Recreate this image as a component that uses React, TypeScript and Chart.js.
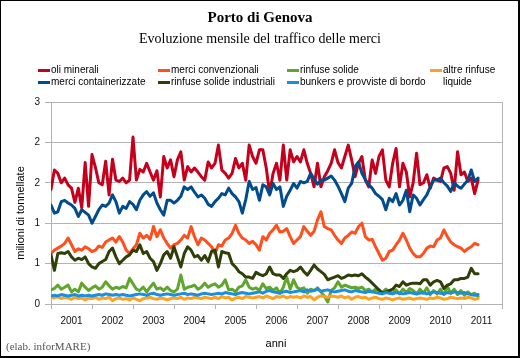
import React, { useEffect, useRef } from 'react';
import { Chart, registerables } from 'chart.js';

Chart.register(...registerables);

const years = ['2001', '2002', '2003', '2004', '2005', '2006', '2007', '2008', '2009', '2010', '2011'];

const seriesNames = [
  'oli minerali',
  'merci convenzionali',
  'rinfuse solide',
  'altre rinfuse liquide',
  'merci containerizzate',
  'rinfuse solide industriali',
  'bunkers e provviste di bordo',
];

const seriesColors = ['#c4001c', '#ff4f1c', '#5fa62a', '#ffa020', '#004c8c', '#2f3f08', '#1a8ee0'];

const oliMinerali = [
  1.70, 1.99, 1.94, 1.80, 1.87, 1.77, 1.72, 1.51, 1.72, 1.43, 2.10, 1.45,
  2.22, 2.03, 1.80, 1.77, 2.12, 1.62, 2.15, 1.84, 1.82, 1.87, 1.80, 1.84,
  2.48, 1.84, 2.00, 1.96, 2.09, 1.96, 1.84, 1.98, 1.59, 2.19, 2.02, 2.14,
  1.89, 2.14, 2.26, 1.84, 2.04, 1.96, 2.02, 1.96, 1.89, 1.84, 2.11, 2.02,
  2.09, 2.36, 1.99, 1.94, 1.87, 1.94, 2.16, 2.02, 2.09, 1.84, 2.36, 2.19,
  2.09, 2.29, 2.29, 2.02, 1.64, 1.94, 2.09, 1.84, 2.36, 1.84, 2.29, 2.11,
  2.19, 2.11, 2.29, 2.09, 1.94, 1.74, 2.09, 1.74, 1.89, 1.98, 2.09, 2.29,
  2.10, 2.02, 2.19, 2.36, 2.14, 1.89, 2.09, 2.19, 1.84, 1.74, 2.14, 1.94,
  2.19, 2.29, 1.84, 1.74, 2.09, 2.31, 1.74, 2.09, 1.96, 1.59, 1.80, 2.24,
  1.77, 1.80, 1.92, 1.72, 1.87, 1.84, 1.82, 2.02, 2.04, 1.94, 1.69, 2.26,
  1.92, 1.96, 1.82, 1.87, 1.64, 1.84,
];

const merciConvenzionali = [
  0.75, 0.80, 0.83, 0.86, 0.90, 0.98, 0.88, 0.78, 0.82, 0.80, 0.85, 0.82,
  0.78, 0.80, 0.86, 0.84, 0.92, 0.95, 0.98, 0.92, 1.00, 0.92, 0.80, 0.75,
  0.82, 0.88, 1.05, 0.98, 1.02, 0.96, 1.15, 1.00, 1.10, 0.98, 0.90, 0.83,
  0.88, 0.90, 0.95, 1.02, 0.98, 1.15, 1.00, 0.88, 0.98, 0.95, 0.90, 0.85,
  0.75, 0.88, 0.86, 0.95, 0.98, 1.05, 1.17, 1.05, 0.98, 0.95, 0.90, 0.93,
  0.88, 0.80, 1.00, 0.95, 1.05, 1.10, 1.17, 1.07, 1.08, 1.12, 1.00, 0.90,
  0.95, 1.00, 1.15, 1.08, 1.02, 1.08, 1.25, 1.37, 1.15, 1.12, 1.10, 1.02,
  0.95, 0.90, 0.98, 1.02, 1.07, 1.05, 1.15, 1.20, 1.00, 0.95, 0.96, 0.85,
  0.75, 0.65, 0.68, 0.78, 0.80, 0.88, 0.95, 1.05, 0.95, 0.83, 0.75, 0.70,
  0.70, 0.75, 0.83, 0.86, 0.85, 0.95, 0.98, 1.10, 1.00, 0.92, 0.88, 0.85,
  0.83, 0.78, 0.82, 0.85, 0.90, 0.88,
];

const rinfuseSolide = [
  0.21, 0.23, 0.28, 0.22, 0.25, 0.28, 0.18, 0.22, 0.18, 0.31, 0.25, 0.20,
  0.24, 0.27, 0.22, 0.25, 0.33, 0.27, 0.22, 0.25, 0.23, 0.26, 0.24, 0.38,
  0.30, 0.22, 0.20, 0.25, 0.18, 0.25, 0.31, 0.22, 0.24, 0.20, 0.25, 0.20,
  0.18, 0.22, 0.43, 0.22, 0.25, 0.26, 0.28, 0.22, 0.25, 0.31, 0.25, 0.28,
  0.30, 0.25, 0.28, 0.36, 0.21, 0.22, 0.18, 0.25, 0.27, 0.36, 0.25, 0.22,
  0.24, 0.20, 0.30, 0.23, 0.25, 0.20, 0.24, 0.16, 0.25, 0.40, 0.22, 0.36,
  0.25, 0.22, 0.24, 0.16, 0.22, 0.20, 0.24, 0.18, 0.12, 0.03, 0.20, 0.24,
  0.33, 0.25, 0.28, 0.26, 0.24, 0.25, 0.23, 0.25, 0.20, 0.22, 0.18, 0.22,
  0.20, 0.17, 0.22, 0.18, 0.16, 0.21, 0.15, 0.22, 0.17, 0.23, 0.20, 0.15,
  0.22, 0.16, 0.24, 0.14, 0.20, 0.15, 0.22, 0.14, 0.26, 0.16, 0.22, 0.14,
  0.20, 0.13, 0.18, 0.14, 0.16, 0.11,
];

const altreRinfuseLiquide = [
  0.10, 0.09, 0.11, 0.08, 0.10, 0.09, 0.07, 0.10, 0.08, 0.09, 0.06, 0.09,
  0.08, 0.10, 0.07, 0.09, 0.08, 0.10, 0.05, 0.08, 0.09, 0.07, 0.08, 0.06,
  0.09, 0.07, 0.05, 0.08, 0.09, 0.10, 0.08, 0.07, 0.09, 0.08, 0.06, 0.08,
  0.09, 0.08, 0.10, 0.07, 0.09, 0.08, 0.10, 0.09, 0.08, 0.10, 0.09, 0.08,
  0.10, 0.08, 0.11, 0.09, 0.10, 0.06, 0.09, 0.10, 0.08, 0.11, 0.10, 0.09,
  0.10, 0.11, 0.09, 0.12, 0.10, 0.08, 0.11, 0.10, 0.12, 0.09, 0.11, 0.10,
  0.11, 0.09, 0.12, 0.10, 0.11, 0.06, 0.10, 0.12, 0.11, 0.10, 0.12, 0.11,
  0.10, 0.12, 0.09, 0.11, 0.07, 0.10, 0.11, 0.09, 0.10, 0.07, 0.09, 0.10,
  0.08, 0.07, 0.09, 0.08, 0.06, 0.08, 0.09, 0.07, 0.08, 0.09, 0.07, 0.08,
  0.09, 0.08, 0.07, 0.09, 0.08, 0.10, 0.09, 0.07, 0.08, 0.10, 0.09, 0.08,
  0.09, 0.08, 0.10, 0.09, 0.07, 0.08,
];

const merciContainerizzate = [
  1.47, 1.35, 1.37, 1.52, 1.54, 1.50, 1.47, 1.42, 1.30, 1.40, 1.36, 1.32,
  1.20, 1.30, 1.40, 1.47, 1.45, 1.50, 1.62, 1.52, 1.35, 1.45, 1.42, 1.52,
  1.48, 1.40, 1.54, 1.62, 1.67, 1.60, 1.65, 1.50, 1.40, 1.32, 1.54, 1.54,
  1.50, 1.54, 1.60, 1.74, 1.70, 1.74, 1.66, 1.59, 1.62, 1.57, 1.48, 1.45,
  1.52, 1.57, 1.64, 1.62, 1.72, 1.64, 1.59, 1.52, 1.35, 1.55, 1.82, 1.70,
  1.73, 1.54, 1.77, 1.74, 1.62, 1.79, 1.70, 1.74, 1.45, 1.60, 1.69, 1.79,
  1.72, 1.82, 1.80, 1.82, 1.94, 1.86, 1.78, 1.84, 1.84, 1.87, 1.90, 1.84,
  1.75, 1.64, 1.52, 1.72, 1.79, 2.04, 2.11, 1.94, 1.85, 1.77, 1.72, 1.64,
  1.60, 1.55, 1.40, 1.57, 1.52, 1.64, 1.47, 1.54, 1.69, 1.37, 1.62, 1.57,
  1.47, 1.55, 1.62, 1.74, 1.84, 1.84, 1.87, 1.80, 1.75, 1.67, 1.80, 1.75,
  1.72, 1.78, 1.84, 1.99, 1.82, 1.87,
];

const rinfuseSolideIndustriali = [
  0.73, 0.50, 0.75, 0.76, 0.75, 0.78, 0.70, 0.65, 0.68, 0.66, 0.70, 0.60,
  0.55, 0.53, 0.60, 0.63, 0.66, 0.78, 0.83, 0.70, 0.60, 0.65, 0.70, 0.73,
  0.80, 0.78, 0.88, 0.75, 0.78, 0.68, 0.63, 0.50, 0.60, 0.73, 0.78, 0.68,
  0.85, 0.70, 0.55, 0.75, 0.85, 0.80, 0.70, 0.72, 0.65, 0.72, 0.63, 0.78,
  0.80, 0.55, 0.78, 0.76, 0.75, 0.60, 0.55, 0.48, 0.45, 0.40, 0.40, 0.38,
  0.47, 0.44, 0.42, 0.45, 0.55, 0.45, 0.43, 0.43, 0.38, 0.45, 0.50, 0.48,
  0.50, 0.55, 0.48, 0.43, 0.50, 0.58, 0.52, 0.48, 0.44, 0.36, 0.38, 0.40,
  0.42, 0.38, 0.40, 0.43, 0.42, 0.43, 0.42, 0.45, 0.40, 0.36, 0.31, 0.26,
  0.21, 0.16, 0.18, 0.20, 0.22, 0.28, 0.26, 0.33, 0.28, 0.30, 0.31, 0.31,
  0.30, 0.36, 0.36, 0.28, 0.33, 0.35, 0.33, 0.23, 0.28, 0.30, 0.36, 0.36,
  0.38, 0.38, 0.40, 0.53, 0.45, 0.45,
];

const bunkersProvviste = [
  0.12, 0.13, 0.12, 0.14, 0.13, 0.12, 0.13, 0.14, 0.12, 0.13, 0.12, 0.13,
  0.12, 0.13, 0.14, 0.13, 0.15, 0.14, 0.13, 0.14, 0.13, 0.14, 0.13, 0.12,
  0.13, 0.14, 0.15, 0.14, 0.13, 0.15, 0.16, 0.14, 0.13, 0.14, 0.15, 0.14,
  0.13, 0.14, 0.15, 0.16, 0.14, 0.15, 0.14, 0.13, 0.15, 0.16, 0.15, 0.14,
  0.15, 0.16, 0.15, 0.17, 0.16, 0.15, 0.14, 0.16, 0.17, 0.16, 0.15, 0.16,
  0.17, 0.18, 0.16, 0.19, 0.20, 0.18, 0.17, 0.16, 0.18, 0.19, 0.17, 0.18,
  0.19, 0.20, 0.18, 0.21, 0.19, 0.20, 0.22, 0.19, 0.20, 0.21, 0.19, 0.18,
  0.19, 0.20, 0.21, 0.19, 0.18, 0.20, 0.19, 0.18, 0.17, 0.19, 0.18, 0.17,
  0.16, 0.15, 0.17, 0.16, 0.15, 0.17, 0.16, 0.15, 0.16, 0.17, 0.16, 0.15,
  0.16, 0.17, 0.15, 0.16, 0.18, 0.17, 0.16, 0.15, 0.17, 0.16, 0.18, 0.17,
  0.16, 0.17, 0.15, 0.14, 0.13, 0.14,
];

const seriesValues = [
  oliMinerali,
  merciConvenzionali,
  rinfuseSolide,
  altreRinfuseLiquide,
  merciContainerizzate,
  rinfuseSolideIndustriali,
  bunkersProvviste,
];

// legend layout: [column x of marker, row y]
const legendCols = [38, 158, 287, 430];
const legendRows = [70, 82];

const GRID = '#b3b3b3';
const SANS = '"Liberation Sans", Arial, sans-serif';
const SERIF = '"Liberation Serif", "Times New Roman", serif';

export default function App() {
  const canvasRef = useRef<HTMLCanvasElement | null>(null);

  useEffect(() => {
    const canvas = canvasRef.current;
    if (!canvas) return;
    const monthsPerYear = 12;
    const xMax = years.length * monthsPerYear;
    const tickValues: number[] = [];
    for (let k = 0; k < years.length; k++) {
      tickValues.push(k * monthsPerYear, k * monthsPerYear + 6);
    }
    tickValues.push(xMax);

    const frame = {
      id: 'frame',
      beforeDatasetsDraw(chart: any) {
        const { ctx, chartArea } = chart;
        ctx.save();
        ctx.strokeStyle = GRID;
        ctx.lineWidth = 1;
        const x = Math.round(chartArea.right) + 0.5;
        ctx.beginPath();
        ctx.moveTo(x, chartArea.top);
        ctx.lineTo(x, chartArea.bottom);
        ctx.stroke();
        ctx.restore();
      },
    };

    const chart = new Chart(canvas, {
      type: 'line',
      data: {
        datasets: seriesValues.map((vals, k) => ({
          label: seriesNames[k],
          data: vals.map((v, i) => ({ x: i, y: v })),
          borderColor: seriesColors[k],
          backgroundColor: seriesColors[k],
          borderWidth: 3,
          pointRadius: 0,
          tension: 0,
          fill: false,
          borderJoinStyle: 'round' as const,
          borderCapStyle: 'round' as const,
          order: seriesValues.length - 1 - k,
        })),
      },
      options: {
        animation: false,
        responsive: false,
        maintainAspectRatio: false,
        layout: { padding: { top: 102, right: 18, left: 0, bottom: 0 } },
        plugins: {
          legend: { display: false },
          title: { display: false },
          tooltip: { enabled: false },
        },
        scales: {
          x: {
            type: 'linear',
            min: 0,
            max: xMax,
            afterBuildTicks: (scale: any) => {
              scale.ticks = tickValues.map((v) => ({ value: v }));
            },
            afterFit: (scale: any) => {
              scale.height = 54;
            },
            grid: {
              drawOnChartArea: false,
              tickLength: 5,
              tickColor: (ctx: any) =>
                ctx.tick && ctx.tick.value % 12 === 0 ? GRID : 'rgba(0,0,0,0)',
            },
            border: { color: GRID },
            ticks: {
              autoSkip: false,
              maxRotation: 0,
              minRotation: 0,
              padding: 6,
              color: '#111',
              font: { family: SANS, size: 10 },
              callback: (value: any) => {
                const v = Number(value);
                return v % 12 === 6 ? years[(v - 6) / 12] : '';
              },
            },
          },
          y: {
            min: 0,
            max: 3,
            afterFit: (scale: any) => {
              scale.width = 51;
            },
            grid: { color: GRID, tickLength: 6, tickColor: GRID },
            border: { color: GRID },
            ticks: {
              stepSize: 0.6,
              padding: 5,
              color: '#111',
              font: { family: SANS, size: 10 },
              callback: (value: any) => String(Math.round(Number(value))),
            },
          },
        },
      },
      plugins: [frame],
    } as any);
    return () => chart.destroy();
  }, []);

  const legendItems = seriesNames.map((name, k) => {
    const col = k % 4;
    const row = Math.floor(k / 4);
    return { name, color: seriesColors[k], x: legendCols[col], y: legendRows[row] };
  });

  return (
    <div
      style={{
        position: 'fixed',
        left: 0,
        top: 0,
        width: 520,
        height: 358,
        background: '#fff',
        overflow: 'hidden',
      }}
    >
      <canvas ref={canvasRef} width={520} height={358} style={{ position: 'absolute', left: 0, top: 0, width: 520, height: 358 }} />
      <div
        style={{
          position: 'absolute',
          left: 0,
          top: 0,
          width: 520,
          height: 358,
          boxSizing: 'border-box',
          borderTop: '1px solid #000',
          borderLeft: '1px solid #000',
          borderRight: '2px solid #000',
          borderBottom: '2px solid #000',
          pointerEvents: 'none',
        }}
      />
      <div
        style={{
          position: 'absolute',
          left: 0,
          width: 520,
          top: 8,
          textAlign: 'center',
          fontFamily: SERIF,
          fontWeight: 'bold',
          fontSize: 15,
          lineHeight: '18px',
          color: '#000',
        }}
      >
        Porto di Genova
      </div>
      <div
        style={{
          position: 'absolute',
          left: 0,
          width: 520,
          top: 30,
          textAlign: 'center',
          fontFamily: SERIF,
          fontSize: 14,
          lineHeight: '17px',
          color: '#000',
        }}
      >
        Evoluzione mensile del traffico delle merci
      </div>
      {legendItems.map((it) => (
        <React.Fragment key={it.name}>
          <div
            style={{
              position: 'absolute',
              left: it.x,
              top: it.y - 1.5,
              width: 12,
              height: 3,
              background: it.color,
            }}
          />
          <div
            style={{
              position: 'absolute',
              left: it.x + 13,
              top: it.y - 6,
              fontFamily: SANS,
              fontSize: 10,
              lineHeight: '12px',
              color: '#000',
              whiteSpace: 'nowrap',
            }}
          >
            {it.name === 'altre rinfuse liquide' ? 'altre rinfuse' : it.name}
          </div>
        </React.Fragment>
      ))}
      <div
        style={{
          position: 'absolute',
          left: legendCols[3] + 13,
          top: legendRows[1] - 6,
          fontFamily: SANS,
          fontSize: 10,
          lineHeight: '12px',
          color: '#000',
          whiteSpace: 'nowrap',
        }}
      >
        liquide
      </div>
      <div
        style={{
          position: 'absolute',
          left: 20 - 60,
          top: 213 - 7,
          width: 120,
          height: 14,
          lineHeight: '14px',
          textAlign: 'center',
          transform: 'rotate(-90deg)',
          fontFamily: SANS,
          fontSize: 11,
          color: '#000',
          whiteSpace: 'nowrap',
        }}
      >
        milioni di tonnellate
      </div>
      <div
        style={{
          position: 'absolute',
          left: 236,
          width: 80,
          top: 336,
          textAlign: 'center',
          fontFamily: SANS,
          fontSize: 11,
          lineHeight: '14px',
          color: '#000',
        }}
      >
        anni
      </div>
      <div
        style={{
          position: 'absolute',
          left: 6,
          top: 339,
          fontFamily: SERIF,
          fontSize: 11,
          lineHeight: '14px',
          color: '#555',
          whiteSpace: 'nowrap',
        }}
      >
        (elab. inforMARE)
      </div>
    </div>
  );
}
